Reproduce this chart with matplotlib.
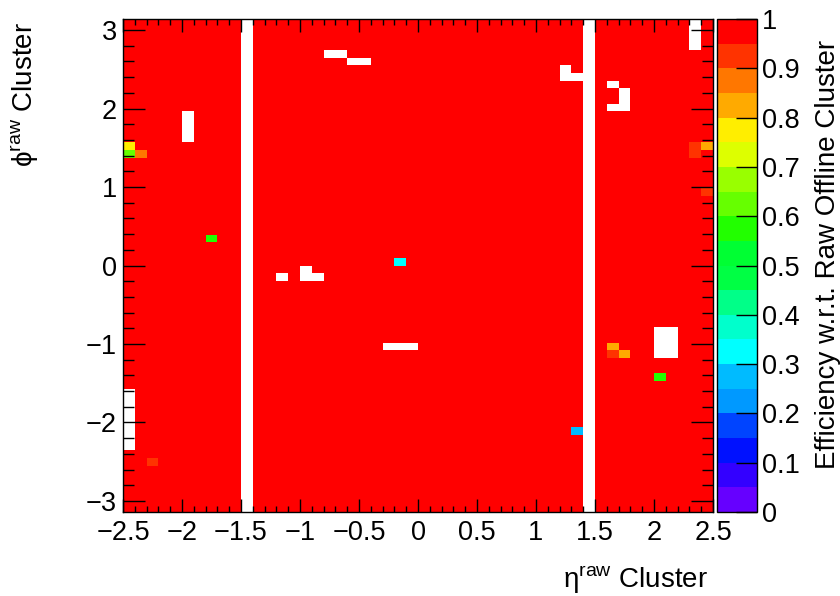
import numpy as np
import matplotlib
matplotlib.use("Agg")
import matplotlib.pyplot as plt
from matplotlib.colors import ListedColormap, BoundaryNorm
from matplotlib.ticker import MultipleLocator, FuncFormatter

plt.rcParams['font.family'] = ['Liberation Sans', 'DejaVu Sans']
plt.rcParams['mathtext.fontset'] = 'custom'
plt.rcParams['mathtext.rm'] = 'Liberation Sans'
plt.rcParams['axes.unicode_minus'] = True

# --- binning: 50 eta bins x 64 phi bins ---
N_ETA = 50
N_PHI = 64
ETA_RANGE = (-2.5, 2.5)
PHI_RANGE = (-np.pi, np.pi)

# default efficiency in filled bins
DEFAULT_EFF = 1.0

# eta bins with no entries at all (gap columns)
empty_eta_columns = [10, 39]

# single empty bins (eta bin, phi bin)
empty_cells = [
    (5, 48), (5, 49), (5, 50), (5, 51),
    (17, 59), (18, 59), (19, 58), (20, 58),
    (48, 60), (48, 61), (48, 62), (48, 63),
    (37, 57), (37, 56), (38, 56),
    (41, 55), (42, 54), (42, 53), (41, 52), (42, 52),
    (13, 30), (15, 31), (15, 30), (16, 30),
    (22, 21), (23, 21), (24, 21),
    (45, 20), (45, 21), (45, 22), (45, 23),
    (46, 20), (46, 21), (46, 22), (46, 23),
    (0, 8), (0, 9), (0, 10), (0, 11), (0, 12), (0, 13), (0, 14), (0, 15),
]

# bins with lower efficiency (eta bin, phi bin, efficiency)
low_eff_cells = [
    (0, 47, 0.78), (0, 46, 0.62), (1, 46, 0.87),
    (7, 35, 0.57), (23, 32, 0.33),
    (41, 21, 0.82), (41, 20, 0.92), (42, 20, 0.82),
    (45, 17, 0.57), (38, 10, 0.28), (2, 6, 0.92),
    (48, 46, 0.92), (48, 47, 0.92), (49, 47, 0.82), (49, 41, 0.92),
]

# ROOT-like palette, 20 contours from 0 to 1
palette = [
    "#6600ff", "#3300ff", "#0011ff", "#0044ff", "#0099ff",
    "#00bbff", "#00ffff", "#00ffcc", "#00ff88", "#00ff44",
    "#00ff33", "#22ff00", "#66ff00", "#99ff00", "#ddff00",
    "#ffee00", "#ffaa00", "#ff7700", "#ff3300", "#ff0000",
]

eta_edges = np.linspace(ETA_RANGE[0], ETA_RANGE[1], N_ETA + 1)
phi_edges = np.linspace(PHI_RANGE[0], PHI_RANGE[1], N_PHI + 1)

eff = np.full((N_PHI, N_ETA), DEFAULT_EFF)
for i in empty_eta_columns:
    eff[:, i] = np.nan
for i, j in empty_cells:
    eff[j, i] = np.nan
for i, j, v in low_eff_cells:
    eff[j, i] = v
eff = np.ma.masked_invalid(eff)

cmap = ListedColormap(palette)
cmap.set_over(palette[-1])
cmap.set_bad("white")
norm = BoundaryNorm(np.linspace(0, 1, 21), cmap.N, clip=True)


def short_label(v, pos=None):
    return f"{v:g}".replace("-", "\u2212")


W, H = 840, 596
fig = plt.figure(figsize=(W / 100, H / 100), dpi=100)
ax = fig.add_axes([123 / W, 1 - 512 / H, 590 / W, 493 / H])
cax = fig.add_axes([717 / W, 1 - 512 / H, 40 / W, 493 / H])

mesh = ax.pcolormesh(eta_edges, phi_edges, eff, cmap=cmap, norm=norm,
                     edgecolors="none", antialiased=False)
ax.set_xlim(*ETA_RANGE)
ax.set_ylim(*PHI_RANGE)

ax.xaxis.set_major_locator(MultipleLocator(0.5))
ax.xaxis.set_minor_locator(MultipleLocator(0.1))
ax.yaxis.set_major_locator(MultipleLocator(1))
ax.yaxis.set_minor_locator(MultipleLocator(0.2))
ax.xaxis.set_major_formatter(FuncFormatter(short_label))
ax.yaxis.set_major_formatter(FuncFormatter(short_label))

ax.tick_params(which="both", direction="in", top=True, right=True,
               width=1, labelsize=19.5)
ax.tick_params(axis="x", which="major", length=9.4, pad=6)
ax.tick_params(axis="x", which="minor", length=4.5)
ax.tick_params(axis="y", which="major", length=15.6, pad=4.5)
ax.tick_params(axis="y", which="minor", length=7.7)
for s in ax.spines.values():
    s.set_linewidth(1)

cb_ticks = np.round(np.arange(0, 1.01, 0.1), 1)
cb = fig.colorbar(mesh, cax=cax, ticks=cb_ticks)
cb.ax.set_yticklabels([short_label(t) for t in cb_ticks])
cb.ax.tick_params(direction="in", length=15, width=1, labelsize=19.5, pad=3.5)
cb.ax.minorticks_off()
cb.outline.set_linewidth(1)

fig.text(708 / W, 1 - 588 / H, r"η$^{\mathrm{raw}}$ Cluster",
         ha="right", va="baseline", fontsize=20)
fig.text(33 / W, 1 - 22 / H, r"ϕ$^{\mathrm{raw}}$ Cluster",
         rotation=90, rotation_mode="anchor", ha="right", va="baseline",
         fontsize=20)
fig.text(835 / W, 1 - 40 / H, "Efficiency w.r.t. Raw Offline Cluster",
         rotation=90, rotation_mode="anchor", ha="right", va="baseline",
         fontsize=20)

fig.savefig("out.png", dpi=100)
